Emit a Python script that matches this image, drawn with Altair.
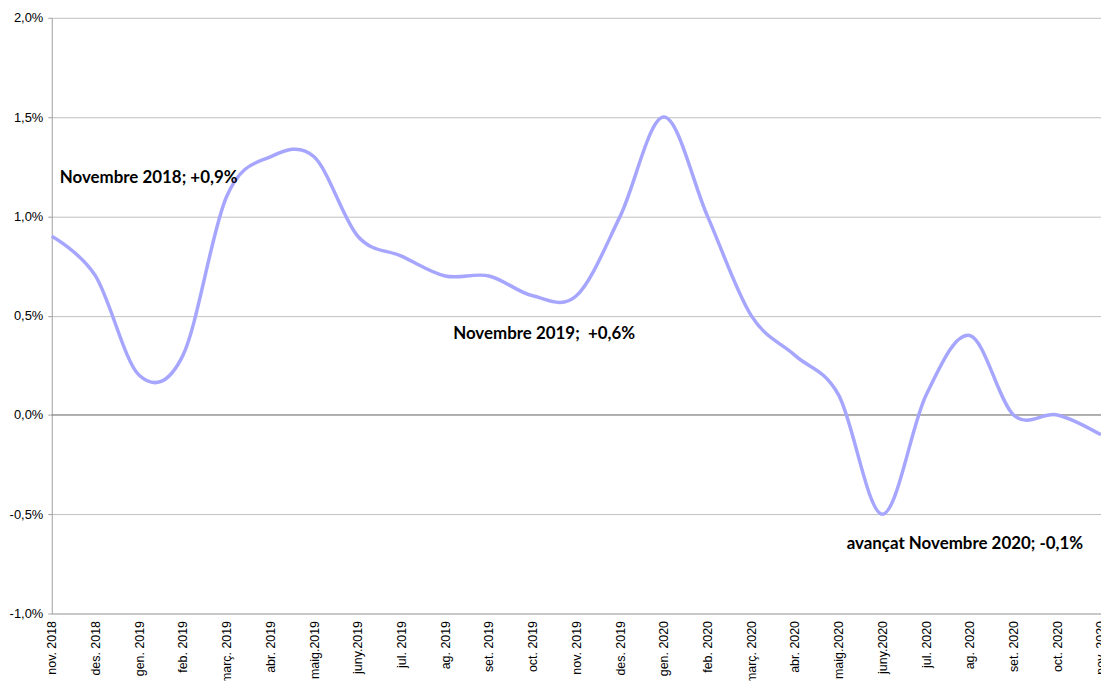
import altair as alt
import pandas as pd

months = ["nov. 2018", "des. 2018", "gen. 2019", "feb. 2019", "març. 2019", "abr. 2019",
          "maig.2019", "juny.2019", "jul. 2019", "ag. 2019", "set. 2019", "oct. 2019",
          "nov. 2019", "des. 2019", "gen. 2020", "feb. 2020", "març. 2020", "abr. 2020",
          "maig.2020", "juny.2020", "jul. 2020", "ag. 2020", "set. 2020", "oct. 2020",
          "nov. 2020"]
values = [0.9, 0.7, 0.2, 0.3, 1.1, 1.3, 1.3, 0.9, 0.8, 0.7, 0.7, 0.6,
          0.6, 1.0, 1.5, 1.0, 0.5, 0.3, 0.1, -0.5, 0.1, 0.4, 0.0, 0.0, -0.1]

ann_text = ["Novembre 2018; +0,9%", "Novembre 2019;\u00a0 +0,6%", "avançat Novembre 2020; -0,1%"]
ann_month = ["nov. 2018", "ag. 2019", "maig.2020"]
ann_y = [1.195, 0.405, -0.65]

y_ticks = [-1.0, -0.5, 0.0, 0.5, 1.0, 1.5, 2.0]

df = pd.DataFrame({"month": months, "value": values})
ann = pd.DataFrame({"month": ann_month, "y": ann_y, "text": ann_text})
zero = pd.DataFrame({"y": [0.0]})

x_enc = alt.X("month:N", sort=months, scale=alt.Scale(type="point", padding=0),
              axis=alt.Axis(title=None, labelAngle=-90, ticks=False, grid=False,
                            labelFontSize=12.5, labelFont="Liberation Sans",
                            labelColor="#000000", labelPadding=7,
                            domainColor="#b0b0b0", labelOverlap=False))
y_scale = alt.Scale(domain=[-1.0, 2.0], nice=False, zero=False)

line = alt.Chart(df).mark_line(interpolate="cardinal", color="#a6a6ff", strokeWidth=3.5).encode(
    x=x_enc,
    y=alt.Y("value:Q", scale=y_scale,
            axis=alt.Axis(title=None, values=y_ticks, grid=True, gridColor="#c0c0c0",
                          domainColor="#a0a0a0", tickColor="#a0a0a0", tickSize=4,
                          labelFontSize=13, labelFont="Liberation Sans", labelColor="#000000",
                          labelPadding=5,
                          labelExpr="replace(replace(format(datum.value, '.1f'), '.', ','), '\u2212', '-') + '%'")),
)

zline = alt.Chart(zero).mark_rule(color="#808080", strokeWidth=1).encode(
    y=alt.Y("y:Q", scale=y_scale)
)

text = alt.Chart(ann).mark_text(align="left", baseline="middle", dx=8, font="Lato",
                                fontWeight="bold", fontSize=17, color="#000000").encode(
    x=alt.X("month:N", sort=months),
    y=alt.Y("y:Q", scale=y_scale),
    text="text:N",
)

chart = alt.layer(zline, line, text).properties(
    width=1055, height=599,
    autosize=alt.AutoSizeParams(type="none"),
    padding={"left": 44, "top": 8, "right": 0, "bottom": 66},
).configure_view(stroke=None)

chart.save("out.html", embed_options={"renderer": "svg", "actions": False})
